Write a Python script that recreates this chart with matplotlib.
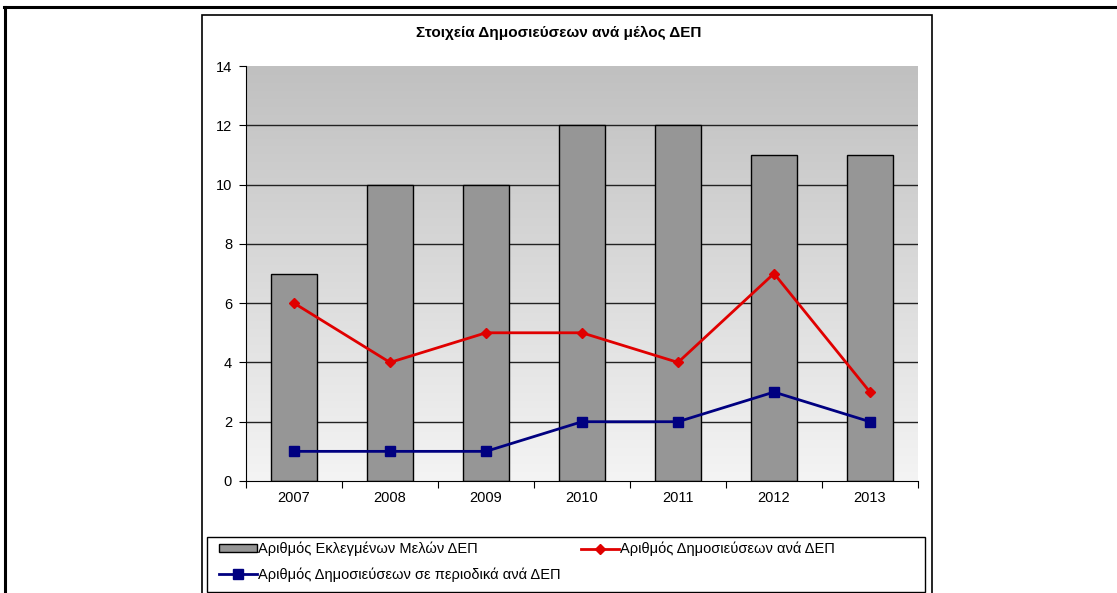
import matplotlib
matplotlib.use('Agg')
import matplotlib.pyplot as plt
import numpy as np
from matplotlib.patches import Rectangle
from matplotlib.lines import Line2D

plt.rcParams['font.family'] = ['Liberation Sans', 'DejaVu Sans']

years = ['2007', '2008', '2009', '2010', '2011', '2012', '2013']
members = [7, 10, 10, 12, 12, 11, 11]
publications = [6, 4, 5, 5, 4, 7, 3]
journal_pubs = [1, 1, 1, 2, 2, 3, 2]

W, H = 1117, 593
fig = plt.figure(figsize=(W / 100, H / 100), dpi=100)

# outer page frame and chart box (pixel -> figure fraction)
def fx(px):
    return px / W

def fy(py):
    return 1 - py / H

fig.add_artist(Line2D([fx(4), fx(1117)], [fy(7), fy(7)], color='black', lw=2.2))
fig.add_artist(Line2D([fx(5), fx(5)], [fy(7), fy(600)], color='black', lw=2.2))
fig.add_artist(Rectangle((fx(202), fy(600)), fx(932 - 202), (600 - 15) / H,
                         fill=False, ec='black', lw=1.2))
# legend frame
fig.add_artist(Rectangle((fx(207), fy(592)), fx(925 - 207), (592 - 537) / H,
                         fill=False, ec='black', lw=1))

ax = fig.add_axes([fx(246), fy(481), fx(918 - 246), (481 - 66) / H])
x = np.arange(len(years))

# gradient background
grad = np.linspace(0, 1, 256).reshape(-1, 1)
top = np.array([192, 192, 192]) / 255
bot = np.array([244, 244, 244]) / 255
img = top + (bot - top) * grad[:, :, None] * np.ones((1, 1, 3))
ax.imshow(img, extent=(-0.5, 6.5, 0, 14), aspect='auto', zorder=0, origin='upper')

ax.set_xlim(-0.5, 6.5)
ax.set_ylim(0, 14)
for v in range(2, 14, 2):
    ax.axhline(v, color='#222222', lw=1, zorder=1)

bars = ax.bar(x, members, width=0.48, color='#969696', edgecolor='black', lw=1, zorder=2,
              label='Αριθμός Εκλεγμένων Μελών ΔΕΠ')
l2, = ax.plot(x, journal_pubs, color='#000080', lw=2, marker='s', ms=7, zorder=4,
              label='Αριθμός Δημοσιεύσεων σε περιοδικά ανά ΔΕΠ')
l1, = ax.plot(x, publications, color='#e00000', lw=2, marker='D', ms=5.5, zorder=4,
              label='Αριθμός Δημοσιεύσεων ανά ΔΕΠ')

for s in ['top', 'right']:
    ax.spines[s].set_visible(False)
ax.spines['left'].set_color('black')
ax.spines['bottom'].set_color('black')

ax.set_yticks(range(0, 15, 2))
ax.set_xticks(np.arange(-0.5, 7, 1))
ax.set_xticklabels([])
ax.set_xticks(x, minor=True)
ax.set_xticklabels(years, minor=True)
ax.tick_params(axis='x', which='minor', length=0, pad=7, labelsize=10.5)
ax.tick_params(axis='x', which='major', length=5, direction='out')
ax.tick_params(axis='y', length=5, direction='out', labelsize=10.5, pad=5)

fig.text(fx(559), fy(33), 'Στοιχεία Δημοσιεύσεων ανά μέλος ΔΕΠ', ha='center', va='center',
         fontsize=11, fontweight='bold')

leg = fig.legend([bars, l2, l1], [bars.get_label(), l2.get_label(), l1.get_label()],
                 ncol=2, loc='upper left', bbox_to_anchor=(fx(216), fy(539)),
                 fontsize=10.5, frameon=False, borderaxespad=0, borderpad=0.2,
                 handlelength=2.6, handleheight=0.5, labelspacing=0.75,
                 handletextpad=0.1, columnspacing=1.35)

fig.savefig('out.png', dpi=100)
